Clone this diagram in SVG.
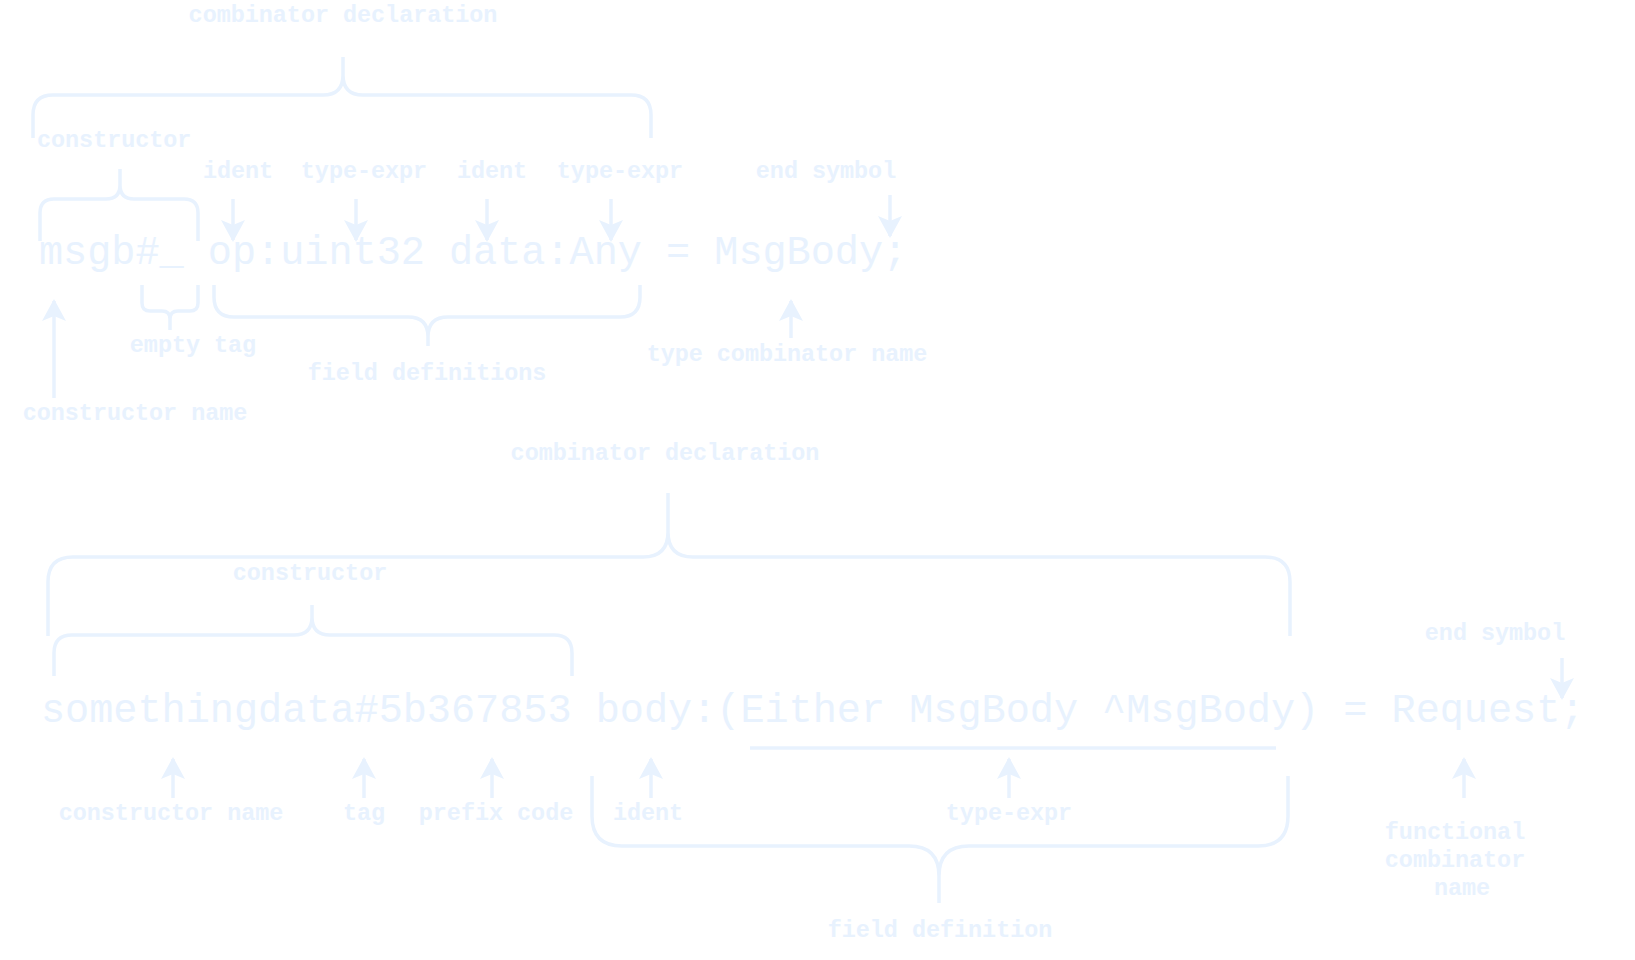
<svg xmlns="http://www.w3.org/2000/svg" width="1635" height="960" viewBox="0 0 1635 960">
<style>
.code{font-family:"Liberation Mono",monospace;font-size:40.2px;fill:#e8f2fe}
.lbl{font-family:"Liberation Mono",monospace;font-weight:bold;font-size:23.4px;fill:#e8f2fe;text-anchor:middle}
.br{fill:none;stroke:#e8f2fe;stroke-width:3.5}
.ar{stroke:#e8f2fe;stroke-width:3.5;marker-end:url(#ah)}
</style>
<defs>
<marker id="ah" markerUnits="userSpaceOnUse" markerWidth="24" markerHeight="26" refX="20" refY="12" orient="auto">
<path d="M0,0 L22,12 L0,24 L5,12 Z" fill="#e8f2fe"/>
</marker>
</defs>
<rect width="1635" height="960" fill="#ffffff"/>
<g id="code1"><text class="code" x="39" y="264" xml:space="preserve">msgb#_ op:uint32 data:Any = MsgBody;</text></g>
<g id="code2"><text class="code" x="41" y="722" xml:space="preserve">somethingdata#5b367853 body:(Either MsgBody ^MsgBody) = Request;</text></g>
<g id="labels">
<text class="lbl" x="343" y="22">combinator declaration</text>
<text class="lbl" x="37" y="147" style="text-anchor:start">constructor</text>
<text class="lbl" x="238" y="178">ident</text>
<text class="lbl" x="364" y="178">type-expr</text>
<text class="lbl" x="492" y="178">ident</text>
<text class="lbl" x="620" y="178">type-expr</text>
<text class="lbl" x="826" y="178">end symbol</text>
<text class="lbl" x="193" y="352">empty tag</text>
<text class="lbl" x="427" y="380">field definitions</text>
<text class="lbl" x="787" y="361">type combinator name</text>
<text class="lbl" x="135" y="420">constructor name</text>
<text class="lbl" x="665" y="460">combinator declaration</text>
<text class="lbl" x="310" y="580">constructor</text>
<text class="lbl" x="1495" y="640">end symbol</text>
<text class="lbl" x="171" y="820">constructor name</text>
<text class="lbl" x="364" y="820">tag</text>
<text class="lbl" x="496" y="820">prefix code</text>
<text class="lbl" x="648" y="820">ident</text>
<text class="lbl" x="1009" y="820">type-expr</text>
<text class="lbl" x="1455" y="839">functional</text>
<text class="lbl" x="1455" y="867">combinator</text>
<text class="lbl" x="1462" y="895">name</text>
<text class="lbl" x="940" y="937">field definition</text>
</g>
<g id="connectors">
<path class="br" d="M33 138 V115 Q33 95 53 95 H323 Q343 95 343 75 V57 M343 75 Q343 95 363 95 H631 Q651 95 651 115 V138"/>
<path class="br" d="M40 241 V213 Q40 199 54 199 H106 Q120 199 120 185 V169 M120 185 Q120 199 134 199 H184 Q198 199 198 213 V241"/>
<path class="br" d="M142 285 V303 Q142 311 150 311 H162 Q170 311 170 319 V330 M170 319 Q170 311 178 311 H190 Q198 311 198 303 V285"/>
<path class="br" d="M214 285 V297 Q214 317 234 317 H408 Q428 317 428 337 V346 M428 337 Q428 317 448 317 H620 Q640 317 640 297 V285"/>
<path class="br" d="M48 636 V582 Q48 557 73 557 H643 Q668 557 668 532 V493 M668 532 Q668 557 693 557 H1265 Q1290 557 1290 582 V636"/>
<path class="br" d="M54 676 V653 Q54 635 72 635 H294 Q312 635 312 617 V605 M312 617 Q312 635 330 635 H554 Q572 635 572 653 V676"/>
<path class="br" d="M592 776 V816 Q592 846 622 846 H909 Q939 846 939 876 V903 M939 876 Q939 846 969 846 H1258 Q1288 846 1288 816 V776"/>
<line class="br" x1="750" y1="748" x2="1276" y2="748"/>
<line class="ar" x1="233" y1="199" x2="233" y2="240"/>
<line class="ar" x1="356" y1="199" x2="356" y2="240"/>
<line class="ar" x1="487" y1="199" x2="487" y2="240"/>
<line class="ar" x1="611" y1="199" x2="611" y2="240"/>
<line class="ar" x1="890" y1="195" x2="890" y2="236"/>
<line class="ar" x1="54" y1="398" x2="54" y2="301"/>
<line class="ar" x1="791" y1="338" x2="791" y2="301"/>
<line class="ar" x1="1562" y1="658" x2="1562" y2="698"/>
<line class="ar" x1="173" y1="798" x2="173" y2="759"/>
<line class="ar" x1="364" y1="798" x2="364" y2="759"/>
<line class="ar" x1="492" y1="798" x2="492" y2="759"/>
<line class="ar" x1="651" y1="798" x2="651" y2="759"/>
<line class="ar" x1="1009" y1="798" x2="1009" y2="759"/>
<line class="ar" x1="1464" y1="798" x2="1464" y2="759"/>
</g>
</svg>
